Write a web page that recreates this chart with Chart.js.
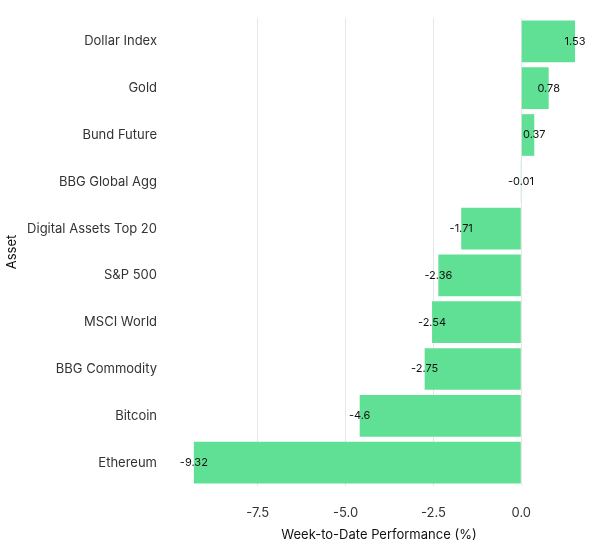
<!DOCTYPE html>
<html>
<head>
<meta charset="utf-8">
<script src="https://cdn.jsdelivr.net/npm/chart.js@4"></script>
<style>
  html, body { margin: 0; padding: 0; background: #fff; }
  #wrap { width: 599px; height: 551px; }
</style>
</head>
<body>
<div id="wrap"><canvas id="chart"></canvas></div>
<script>
// data
var assets = ['Dollar Index', 'Gold', 'Bund Future', 'BBG Global Agg', 'Digital Assets Top 20',
              'S&P 500', 'MSCI World', 'BBG Commodity', 'Bitcoin', 'Ethereum'];
var wtdPerf = [1.53, 0.78, 0.37, -0.01, -1.71, -2.36, -2.54, -2.75, -4.6, -9.32];
var xTicks = [-7.5, -5.0, -2.5, 0.0];

/* value label at the end of each bar */
var barLabels = {
  id: 'barLabels',
  afterDatasetsDraw: function(chart) {
    var ctx = chart.ctx;
    var meta = chart.getDatasetMeta(0);
    ctx.save();
    ctx.font = '11px Inter, "Liberation Sans", sans-serif';
    ctx.fillStyle = '#111';
    ctx.textAlign = 'center';
    ctx.textBaseline = 'middle';
    meta.data.forEach(function(bar, i) {
      ctx.fillText(String(wtdPerf[i]), bar.x, bar.y);
    });
    ctx.restore();
  }
};

var ctx = document.getElementById('chart').getContext('2d');
var chart = new Chart(ctx, {
  type: 'bar',
  data: {
    labels: assets,
    datasets: [{
      data: wtdPerf,
      backgroundColor: '#60e094',
      borderWidth: 0,
      barPercentage: 1,
      categoryPercentage: 0.89
    }]
  },
  options: {
    indexAxis: 'y',
    responsive: true,
    maintainAspectRatio: false,
    animation: false,
    layout: { padding: { top: 18, right: 18, bottom: 0, left: 0 } },
    plugins: {
      legend: { display: false },
      tooltip: { enabled: false }
    },
    scales: {
      x: {
        min: -9.8,
        max: 1.7,
        afterBuildTicks: function(axis) {
          axis.ticks = xTicks.map(function(v) { return { value: v }; });
        },
        afterFit: function(axis) {
          axis.height = 65;
          axis.paddingLeft = 0;
          axis.paddingRight = 0;
        },
        grid: { color: '#e6e6e6', drawTicks: false },
        border: { display: false },
        ticks: {
          padding: 19,
          color: '#333',
          font: { family: 'Inter', size: 13 },
          callback: function(v) { return v.toFixed(1); }
        },
        title: {
          display: true,
          text: 'Week-to-Date Performance (%)',
          color: '#111',
          font: { family: 'Inter', size: 13 },
          padding: { top: 4, bottom: 8 }
        }
      },
      y: {
        afterFit: function(axis) {
          axis.width = 177;
          axis.paddingTop = 0;
          axis.paddingBottom = 0;
        },
        grid: { display: false, drawTicks: false },
        border: { display: false },
        ticks: {
          padding: 20,
          color: '#333',
          font: { family: 'Inter', size: 13 }
        },
        title: {
          display: true,
          text: 'Asset',
          color: '#111',
          font: { family: 'Inter', size: 13 },
          padding: 4
        }
      }
    }
  },
  plugins: [barLabels]
});
</script>
</body>
</html>
